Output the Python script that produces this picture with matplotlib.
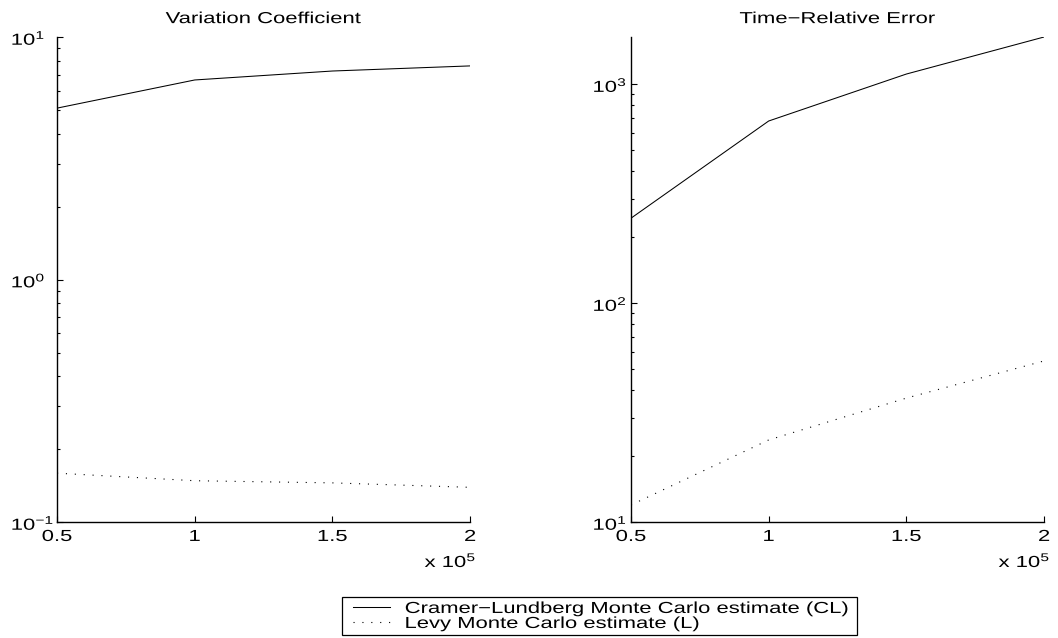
#!/usr/bin/env python3
"""Variation coefficient and time-relative error of two Monte Carlo estimators."""

import matplotlib

matplotlib.use("Agg")
import matplotlib.pyplot as plt  # noqa: E402
from matplotlib.legend_handler import HandlerLine2D  # noqa: E402
from matplotlib.patheffects import AbstractPathEffect  # noqa: E402
from matplotlib.ticker import FuncFormatter, NullFormatter  # noqa: E402
from matplotlib.transforms import Affine2D  # noqa: E402


# sample sizes
X_VALUES = [50000, 100000, 150000, 200000]

# variation coefficient
VC_CL = [5.09, 6.65, 7.24, 7.6]
VC_L = [0.159, 0.148, 0.145, 0.139]

# time-relative error
TRE_CL = [244, 678, 1111, 1640]
TRE_L = [11.96, 23.7, 36.8, 54.4]

TITLES = ["Variation Coefficient", "Time\u2212Relative Error"]
LABELS = [
    "Cramer\u2212Lundberg Monte Carlo estimate (CL)",
    "Levy Monte Carlo estimate (L)",
]
VC_TICKS = [0.1, 1, 10]
TRE_TICKS = [10, 100, 1000]
X_TICKS = [50000, 100000, 150000, 200000]

FONT_SIZE = 11.5
WIDEN = 1.38  # reference text is stretched horizontally


class Widen(AbstractPathEffect):
    """Stretch a text path horizontally around one of its edges."""

    def __init__(self, factor=WIDEN, anchor="center"):
        super().__init__()
        self._factor = factor
        self._anchor = anchor

    def draw_path(self, renderer, gc, tpath, affine, rgbFace=None):
        ext = tpath.get_extents()
        x0 = {"left": ext.x0, "center": (ext.x0 + ext.x1) / 2, "right": ext.x1}[self._anchor]
        stretch = Affine2D().translate(-x0, 0).scale(self._factor, 1).translate(x0, 0)
        renderer.draw_path(gc, tpath, stretch + affine, rgbFace)


def style_axes(ax, yticks, label_pad):
    ax.set_yscale("log")
    ax.set_xlim(X_TICKS[0], X_TICKS[-1])
    ax.set_xticks(X_TICKS)
    ax.set_yticks(yticks)
    ax.xaxis.set_major_formatter(FuncFormatter(lambda v, _: f"{v / 1e5:g}"))
    ax.yaxis.set_minor_formatter(NullFormatter())
    for side in ("top", "right"):
        ax.spines[side].set_visible(False)
    for side in ("left", "bottom"):
        ax.spines[side].set_linewidth(1.0)
    ax.tick_params(direction="in", which="major", length=4.3, width=0.8, labelsize=FONT_SIZE)
    ax.tick_params(direction="in", which="minor", length=2.5, width=0.8)
    ax.tick_params(axis="x", pad=5)
    ax.tick_params(axis="y", pad=label_pad)
    for lbl in ax.get_xticklabels():
        lbl.set_path_effects([Widen(anchor="center")])
    for lbl in ax.get_yticklabels():
        lbl.set_horizontalalignment("left")
        lbl.set_path_effects([Widen(anchor="left")])
    ax.text(0.89, -0.093, r"x 10$^{5}$", transform=ax.transAxes, ha="left",
            va="baseline", fontsize=FONT_SIZE, path_effects=[Widen(anchor="left")])


def main():
    plt.rcParams["font.family"] = ["Liberation Sans", "DejaVu Sans"]
    plt.rcParams["mathtext.fontset"] = "custom"
    plt.rcParams["mathtext.rm"] = "Liberation Sans"
    plt.rcParams["mathtext.it"] = "Liberation Sans:italic"
    plt.rcParams["mathtext.bf"] = "Liberation Sans:bold"
    plt.rcParams["font.size"] = FONT_SIZE

    fig = plt.figure(figsize=(10.58, 6.38), dpi=100)
    ax1 = fig.add_axes([0.0539, 0.1818, 0.3904, 0.7602])
    ax2 = fig.add_axes([0.5964, 0.1818, 0.3904, 0.7602])

    solid = dict(color="black", linewidth=0.75)
    dotted = dict(color="black", linewidth=0.8, linestyle=(0, (1, 7)))

    cl_line, = ax1.plot(X_VALUES, VC_CL, **solid)
    l_line, = ax1.plot(X_VALUES, VC_L, **dotted)
    ax1.set_ylim(VC_TICKS[0], VC_TICKS[-1])

    ax2.plot(X_VALUES, TRE_CL, **solid)
    ax2.plot(X_VALUES, TRE_L, **dotted)
    ax2.set_ylim(TRE_TICKS[0], max(TRE_CL))

    style_axes(ax1, VC_TICKS, 33)
    style_axes(ax2, TRE_TICKS, 27.4)

    for ax, title in zip((ax1, ax2), TITLES):
        t = ax.set_title(title, fontsize=FONT_SIZE, pad=10)
        t.set_path_effects([Widen(anchor="center")])

    leg = fig.legend(
        [cl_line, l_line],
        LABELS,
        loc="upper left",
        bbox_to_anchor=(0.3233, 0.0, 0.4868, 0.0643),
        mode="expand",
        borderaxespad=0,
        borderpad=0.25,
        labelspacing=0.0,
        handlelength=2.75,
        handletextpad=0.94,
        fontsize=FONT_SIZE,
        fancybox=False,
        frameon=True,
        handler_map={cl_line: HandlerLine2D(xpad=0.45), l_line: HandlerLine2D(xpad=0.45)},
    )
    frame = leg.get_frame()
    frame.set_edgecolor("black")
    frame.set_linewidth(0.9)
    frame.set_alpha(1.0)
    for txt in leg.get_texts():
        txt.set_path_effects([Widen(anchor="left")])

    fig.savefig("out.png", dpi=100)
    plt.close(fig)
    return 0


if __name__ == "__main__":
    raise SystemExit(main())
